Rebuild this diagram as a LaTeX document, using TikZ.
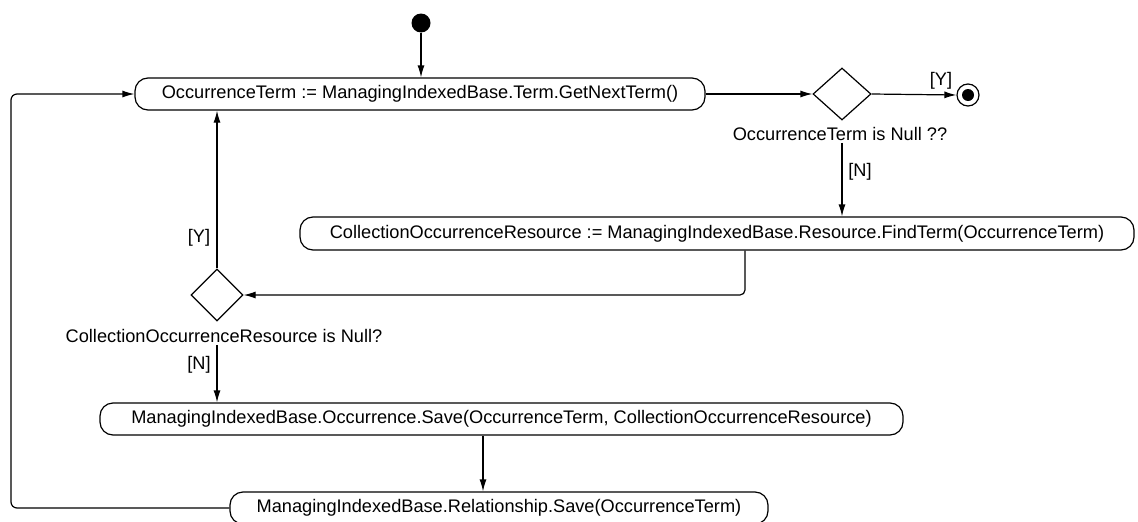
\documentclass[tikz,border=0pt]{standalone}
\usepackage{fontspec}
\setmainfont{Liberation Sans}
\usetikzlibrary{arrows.meta,shapes.geometric}
\begin{document}
\begin{tikzpicture}[x=1pt,y=-1pt,
  font=\fontsize{18.2}{20}\selectfont,
  action/.style={draw,rounded corners=13pt,minimum height=32pt,inner sep=0pt,line width=1.2pt},
  choice/.style={draw,diamond,minimum width=58pt,minimum height=52pt,inner sep=0pt,line width=1.2pt},
  flow/.style={line width=1.2pt,-{Latex[length=12pt,width=7pt]}},
  guard/.style={inner sep=2pt}
]
\useasboundingbox (0,0) rectangle (1138,522);

% activity states
\node[circle,fill,minimum size=19pt,inner sep=0pt] (start) at (421,23) {};
\node[action,minimum width=570pt] (getnext) at (420,94)
  {OccurrenceTerm := ManagingIndexedBase.Term.GetNextTerm()};
\node[choice] (isnull) at (842,94) {};
\node[guard] (isnulltxt) at (840,134) {OccurrenceTerm is Null ??};
\node[draw,circle,line width=1.2pt,minimum size=22pt,inner sep=0pt] (end) at (968,95) {};
\node[circle,fill,minimum size=12pt,inner sep=0pt] (endcore) at (end) {};
\node[guard] (yes1) at (941,81) {[Y]};
\node[action,minimum width=834pt,minimum height=33pt] (find) at (717,233.5)
  {CollectionOccurrenceResource := ManagingIndexedBase.Resource.FindTerm(OccurrenceTerm)};
\node[guard] (no1) at (860,172) {[N]};
\node[choice,minimum width=52pt] (resnull) at (217,295) {};
\node[guard] (resnulltxt) at (224,336) {CollectionOccurrenceResource is Null?};
\node[guard] (yes2) at (199,238) {[Y]};
\node[guard] (no2) at (199,365) {[N]};
\node[action,minimum width=803pt] (saveocc) at (501.5,419)
  {ManagingIndexedBase.Occurrence.Save(OccurrenceTerm, CollectionOccurrenceResource)};
\node[action,minimum width=538pt] (saverel) at (499,508)
  {ManagingIndexedBase.Relationship.Save(OccurrenceTerm)};

% transitions
\coordinate (drop) at (745,0);
\coordinate (mid) at (483,0);
\coordinate (loop) at (11,0);
\draw[flow] (start) -- (getnext.north -| start);
\draw[flow] (getnext.east) -- (isnull.west);
\draw[flow] (isnull.east) -- (end.west);
\draw[flow] (isnulltxt.south -| isnull) -- (find.north -| isnull);
\draw[flow,rounded corners=5pt] (find.south -| drop) |- (resnull.east);
\draw[flow] (resnull.north) -- (getnext.south -| resnull);
\draw[flow] (resnulltxt.south -| resnull) -- (saveocc.north -| resnull);
\draw[flow] (saveocc.south -| mid) -- (saverel.north -| mid);
\draw[flow,rounded corners=6pt] (saverel.west) -| (loop |- getnext.west) -- (getnext.west);
\end{tikzpicture}
\end{document}
